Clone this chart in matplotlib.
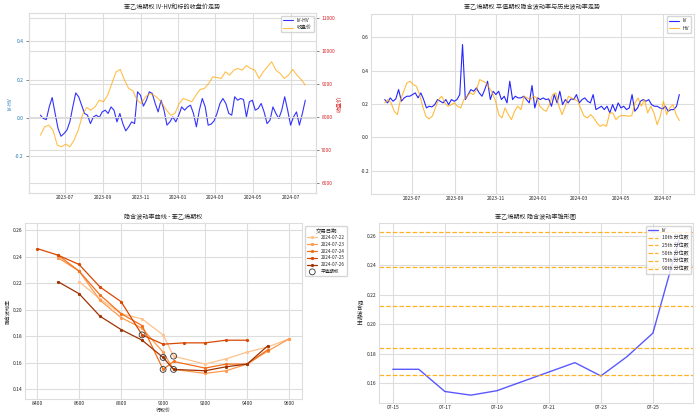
import numpy as np
import pandas as pd
import matplotlib
matplotlib.use("Agg")
import matplotlib.pyplot as plt
import matplotlib.dates as mdates

plt.style.use("seaborn-v0_8-whitegrid")
plt.rcParams["font.family"] = ["Noto Sans CJK SC", "DejaVu Sans"]
plt.rcParams["axes.unicode_minus"] = False

# 收盘价 (top-left, orange)
close_price = [7456, 7708, 7758, 7607, 7154, 7104, 7184, 7104, 7305, 7607, 8060, 8292, 8211, 8312,
               8514, 8463, 8665, 9017, 9370, 9440, 9118, 8866, 8796, 8514, 8413, 8614, 8715, 8665,
               8564, 8413, 8211, 8060, 8111, 8413, 8564, 8514, 8463, 8665, 8836, 8866, 9017, 9218,
               9198, 9168, 9370, 9269, 9420, 9470, 9420, 9561, 9470, 9420, 9168, 9370, 9521, 9672,
               9420, 9319, 9168, 9269, 9440, 9269, 9138, 8967]

# IV-HV (top-left, blue)
iv_hv = [0.014, -0.003, -0.009, 0.057, 0.106, 0.023, -0.056, -0.096, -0.082, -0.064, -0.021, 0.057,
         0.130, 0.110, 0.066, 0.023, 0.014, -0.030, 0.005, 0.014, 0.002, 0.031, 0.040, 0.023, 0.057,
         0.040, -0.021, 0.023, -0.030, -0.068, -0.047, -0.021, -0.030, 0.136, 0.118, 0.061, 0.092,
         0.136, 0.127, 0.075, 0.031, 0.092, 0.040, -0.038, -0.021, 0.005, -0.021, 0.014, 0.057,
         0.040, 0.057, 0.066, 0.023, -0.047, 0.040, 0.101, 0.057, -0.038, -0.033, -0.016, 0.023,
         0.075, 0.101, 0.075, 0.023, 0.014, 0.110, 0.092, 0.101, 0.096, 0.005, 0.084, 0.092, 0.040,
         0.049, 0.075, 0.031, -0.030, -0.012, 0.057, 0.023, -0.003, 0.040, 0.110, 0.040, -0.038,
         0.005, 0.031, -0.038, 0.023, 0.092]

# 平值 IV (top-right, blue)
atm_iv = [0.226, 0.206, 0.236, 0.216, 0.230, 0.286, 0.216, 0.236, 0.246, 0.246, 0.256, 0.266, 0.236,
          0.266, 0.226, 0.176, 0.186, 0.182, 0.196, 0.226, 0.216, 0.206, 0.226, 0.196, 0.226, 0.216,
          0.226, 0.256, 0.556, 0.226, 0.256, 0.286, 0.276, 0.296, 0.266, 0.246, 0.286, 0.336, 0.226,
          0.276, 0.256, 0.276, 0.226, 0.246, 0.206, 0.336, 0.226, 0.246, 0.236, 0.236, 0.246, 0.226,
          0.206, 0.310, 0.176, 0.236, 0.226, 0.236, 0.226, 0.230, 0.186, 0.256, 0.206, 0.276, 0.196,
          0.226, 0.206, 0.230, 0.226, 0.256, 0.206, 0.226, 0.236, 0.216, 0.206, 0.256, 0.166, 0.176,
          0.186, 0.166, 0.186, 0.146, 0.196, 0.156, 0.206, 0.176, 0.186, 0.166, 0.176, 0.256, 0.156,
          0.176, 0.216, 0.226, 0.216, 0.226, 0.196, 0.186, 0.186, 0.176, 0.170, 0.186, 0.156, 0.166,
          0.166, 0.186, 0.256]

# 历史波动率 HV (top-right, orange)
hv = [0.206, 0.226, 0.206, 0.156, 0.136, 0.226, 0.276, 0.326, 0.336, 0.316, 0.306, 0.256, 0.186,
      0.126, 0.110, 0.126, 0.176, 0.226, 0.246, 0.206, 0.186, 0.196, 0.206, 0.186, 0.176, 0.226,
      0.246, 0.266, 0.256, 0.286, 0.346, 0.336, 0.326, 0.296, 0.266, 0.216, 0.136, 0.116, 0.176,
      0.136, 0.106, 0.156, 0.186, 0.166, 0.246, 0.236, 0.226, 0.246, 0.236, 0.186, 0.166, 0.156,
      0.196, 0.256, 0.266, 0.186, 0.136, 0.186, 0.246, 0.236, 0.226, 0.216, 0.166, 0.126, 0.116,
      0.136, 0.116, 0.086, 0.066, 0.076, 0.066, 0.146, 0.146, 0.106, 0.126, 0.130, 0.130, 0.126,
      0.130, 0.206, 0.236, 0.186, 0.226, 0.146, 0.186, 0.146, 0.076, 0.126, 0.216, 0.136, 0.176,
      0.196, 0.136, 0.100]

# 隐含波动率曲线 (bottom-left)
trade_dates = ["2024-07-22", "2024-07-23", "2024-07-24", "2024-07-25", "2024-07-26"]
smile_strikes = [
    [8600, 8700, 8800, 8900, 9000, 9050, 9200, 9300, 9400, 9500, 9600],
    [8500, 8600, 8700, 8800, 8900, 9000, 9050, 9200, 9300, 9400, 9500, 9600],
    [8500, 8600, 8700, 8800, 8900, 9000, 9050, 9200, 9300, 9400, 9500],
    [8400, 8500, 8600, 8700, 8800, 8900, 9000, 9100, 9200, 9300, 9400],
    [8500, 8600, 8700, 8800, 8900, 9000, 9050, 9200, 9300, 9400, 9500],
]
smile_iv = [
    [0.221, 0.208, 0.197, 0.193, 0.181, 0.165, 0.159, 0.163, 0.168, 0.172, 0.178],
    [0.239, 0.229, 0.207, 0.194, 0.186, 0.168, 0.155, 0.152, 0.154, 0.159, 0.169, 0.178],
    [0.241, 0.229, 0.211, 0.197, 0.188, 0.155, 0.161, 0.156, 0.159, 0.159, 0.170],
    [0.246, 0.241, 0.234, 0.217, 0.206, 0.181, 0.174, 0.175, 0.175, 0.177, 0.177],
    [0.221, 0.212, 0.195, 0.185, 0.177, 0.164, 0.155, 0.154, 0.157, 0.159, 0.173],
]
atm_strike = [9050, 9050, 9000, 8900, 9000]
atm_value = [0.165, 0.155, 0.155, 0.181, 0.164]

# 锥形图 (bottom-right)
cone_dates = ["2024-07-15", "2024-07-16", "2024-07-17", "2024-07-18", "2024-07-19",
              "2024-07-22", "2024-07-23", "2024-07-24", "2024-07-25", "2024-07-26"]
cone_iv = [0.1695, 0.1695, 0.1545, 0.152, 0.155, 0.174, 0.165, 0.178, 0.194, 0.257]
quantile_names = ["10th", "25th", "50th", "75th", "90th"]
quantile_values = [0.1655, 0.1842, 0.2126, 0.2386, 0.2627]

fs = 3.6
tfs = 4.4
fig = plt.figure(figsize=(7, 4.19), dpi=100)

def style_ax(ax):
    ax.tick_params(labelsize=fs, pad=1.5, length=0)
    for s in ax.spines.values():
        s.set_color("#dddddd")
        s.set_linewidth(0.8)
    ax.grid(True, color="#dddddd", lw=0.8)

# ---- top left
ax1 = fig.add_axes([0.041, 0.539, 0.411, 0.429])
d1 = pd.date_range("2023-05-22", "2024-07-25", periods=len(iv_hv))
d2 = pd.date_range("2023-05-22", "2024-07-25", periods=len(close_price))
l1, = ax1.plot(d1, iv_hv, color="blue", alpha=0.8, lw=0.8, label="IV-HV")
ax1b = ax1.twinx()
l2, = ax1b.plot(d2, close_price, color="orange", alpha=0.7, lw=0.8, label="收盘价")
style_ax(ax1)
style_ax(ax1b)
ax1.set_ylabel("IV-HV", color="tab:blue", fontsize=fs, labelpad=2)
ax1.tick_params(axis="y", labelcolor="tab:blue", length=2, width=0.5, color="#555555")
ax1.set_ylim(-0.393, 0.545)
ax1.set_yticks([-0.2, 0.0, 0.2, 0.4])
ax1b.set_ylabel("收盘价", color="tab:red", fontsize=fs + 0.4, labelpad=2)
ax1b.tick_params(axis="y", labelcolor="tab:red", length=2, width=0.5, color="#555555")
ax1b.set_ylim(5704, 11133)
ax1.set_xlim(pd.Timestamp("2023-05-03"), pd.Timestamp("2024-08-12"))
ax1.set_title("苯乙烯期权 IV-HV和标的收盘价走势", fontsize=tfs, pad=3)
ax1b.legend([l1, l2], ["IV-HV", "收盘价"], loc="upper right", fontsize=fs, frameon=True)
ax1.xaxis.set_major_locator(mdates.MonthLocator(bymonth=[1, 3, 5, 7, 9, 11]))
ax1.xaxis.set_major_formatter(mdates.DateFormatter("%Y-%m"))

# ---- top right
ax2 = fig.add_axes([0.530, 0.537, 0.461, 0.430])
d3 = pd.date_range("2023-05-22", "2024-07-25", periods=len(atm_iv))
d4 = pd.date_range("2023-05-22", "2024-07-25", periods=len(hv))
ax2.plot(d3, atm_iv, color="blue", alpha=0.85, lw=0.8, label="IV")
ax2.plot(d4, hv, color="orange", alpha=0.75, lw=0.8, label="HV")
style_ax(ax2)
ax2.set_ylim(-0.34, 0.74)
ax2.set_yticks([-0.2, 0.0, 0.2, 0.4, 0.6])
ax2.set_xlim(pd.Timestamp("2023-05-02"), pd.Timestamp("2024-08-15"))
ax2.set_title("苯乙烯期权 平值期权隐含波动率与历史波动率走势", fontsize=tfs, pad=3)
ax2.legend(loc="upper right", fontsize=fs, frameon=True)
ax2.xaxis.set_major_locator(mdates.MonthLocator(bymonth=[1, 3, 5, 7, 9, 11]))
ax2.xaxis.set_major_formatter(mdates.DateFormatter("%Y-%m"))

# ---- bottom left
ax3 = fig.add_axes([0.035, 0.047, 0.396, 0.420])
colors = plt.cm.Oranges(np.linspace(0.3, 0.9, len(trade_dates)))
for i in range(len(trade_dates)):
    ax3.plot(smile_strikes[i], smile_iv[i], marker="o", markersize=1.3, lw=0.9,
             color=colors[i], label=trade_dates[i])
ax3.scatter(atm_strike, atm_value, s=18, facecolors="none", edgecolors="#333333",
            linewidths=0.6, zorder=5, label="平值期权")
style_ax(ax3)
ax3.set_ylim(0.1325, 0.265)
ax3.set_title("隐含波动率曲线 - 苯乙烯期权", fontsize=tfs, pad=3)
ax3.set_xlabel("行权价", fontsize=fs, labelpad=1)
ax3.set_ylabel("隐含波动率", fontsize=fs, labelpad=2)
ax3.legend(title="交易日期", bbox_to_anchor=(1.005, 1), loc="upper left",
           fontsize=fs - 0.3, title_fontsize=fs + 0.3, frameon=True,
           handlelength=2.2, labelspacing=0.4)

# ---- bottom right
ax4 = fig.add_axes([0.541, 0.0375, 0.449, 0.430])
ax4.plot(pd.to_datetime(cone_dates), cone_iv, color="blue", alpha=0.65, lw=1.0, label="IV")
for name, q in zip(quantile_names, quantile_values):
    ax4.axhline(q, color="#ffa500", ls="--", lw=0.9, alpha=0.85, label=name + " 分位数")
style_ax(ax4)
ax4.set_ylim(0.1465, 0.2684)
ax4.set_xlim(pd.Timestamp("2024-07-14 11:00"), pd.Timestamp("2024-07-26 13:00"))
ax4.set_title("苯乙烯期权 隐含波动率锥形图", fontsize=tfs, pad=3)
ax4.set_ylabel("隐\n含\n波\n动\n率", fontsize=fs + 0.4, rotation=0, va="center", labelpad=5,
               linespacing=0.95)
ax4.xaxis.set_major_locator(mdates.DayLocator(bymonthday=range(1, 32, 2)))
ax4.xaxis.set_major_formatter(mdates.DateFormatter("%m-%d"))
ax4.legend(loc="upper right", fontsize=fs, frameon=True)

fig.savefig("out.png", dpi=100)
